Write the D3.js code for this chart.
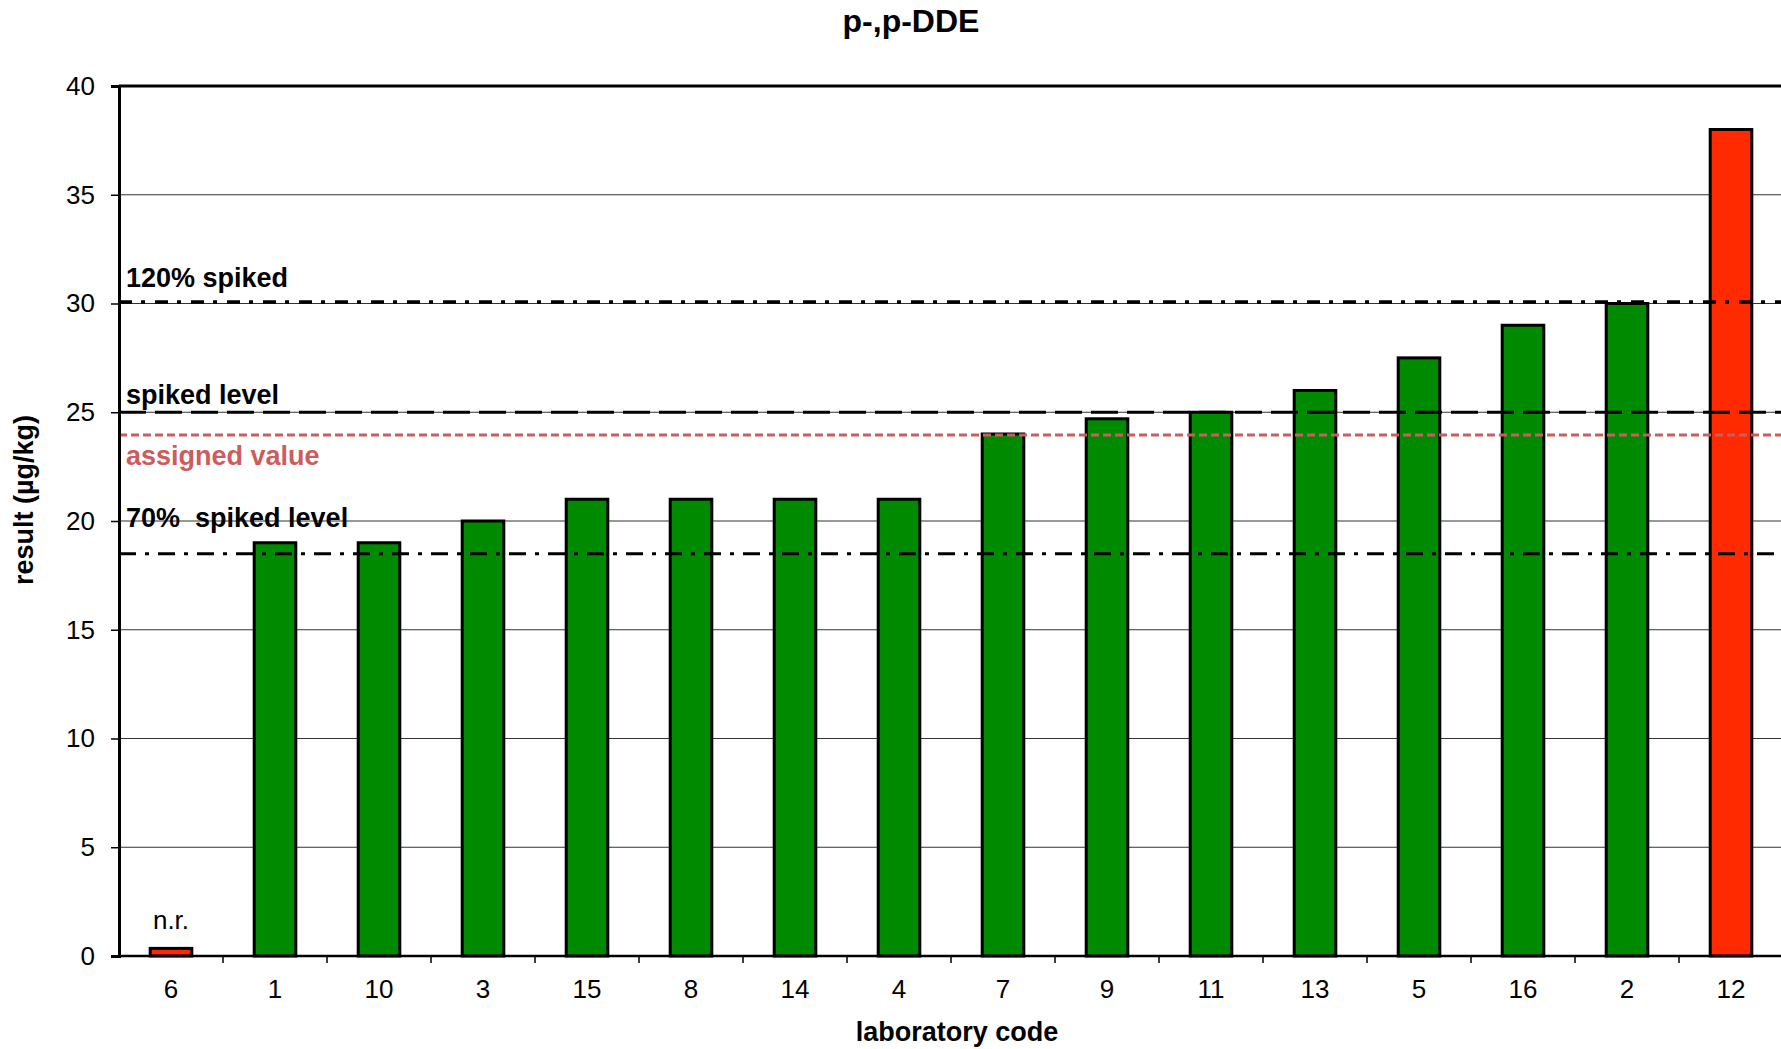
<!DOCTYPE html>
<html>
<head>
<meta charset="utf-8">
<script src="https://cdn.jsdelivr.net/npm/d3@7"></script>
<style>
  body { margin: 0; background: #fff; }
  svg { display: block; font-family: "Liberation Sans", Arial, sans-serif; }
</style>
</head>
<body>
<svg id="chart" width="1781" height="1049"></svg>
<script>
// lab codes in the order shown, and the reported results (µg/kg)
const labs = ["6", "1", "10", "3", "15", "8", "14", "4", "7", "9", "11", "13", "5", "16", "2", "12"];
const results = [0.35, 19, 19, 20, 21, 21, 21, 21, 24, 24.7, 25, 26, 27.5, 29, 30, 38];
const outliers = ["6", "12"];
const notReported = ["6"];

// horizontal reference levels
const refNames = ["120% spiked", "spiked level", "assigned value", "70%  spiked level"];
const refValues = [30.07, 25, 23.95, 18.5];

const yTicks = [0, 5, 10, 15, 20, 25, 30, 35, 40];

const svg = d3.select("#chart");
const margin = {top: 86, left: 119, bottom: 93};
const innerWidth = 1664;
const innerHeight = 1049 - margin.top - margin.bottom;

const g = svg.append("g").attr("transform", `translate(${margin.left},${margin.top})`);

const xScale = d3.scaleBand().domain(labs).range([0, innerWidth]).paddingInner(0.6).paddingOuter(0.3);
const yScale = d3.scaleLinear().domain([0, 40]).range([innerHeight, 0]);

// grid lines
g.selectAll("line.grid")
  .data(yTicks.slice(1, -1))
  .enter()
  .append("line")
  .attr("class", "grid")
  .attr("x1", 0)
  .attr("x2", innerWidth)
  .attr("y1", d => yScale(d))
  .attr("y2", d => yScale(d))
  .attr("stroke", "#333")
  .attr("stroke-width", 1.2);

// bars
const data = labs.map((d, i) => ({lab: d, value: results[i]}));
g.selectAll("rect.bar")
  .data(data)
  .enter()
  .append("rect")
  .attr("class", "bar")
  .attr("x", d => xScale(d.lab))
  .attr("y", d => yScale(d.value))
  .attr("width", xScale.bandwidth())
  .attr("height", d => yScale(0) - yScale(d.value))
  .attr("fill", d => outliers.includes(d.lab) ? "#ff2a00" : "#008a00")
  .attr("stroke", "#000")
  .attr("stroke-width", 3);

// n.r. label
g.selectAll("text.nr")
  .data(data.filter(d => notReported.includes(d.lab)))
  .enter()
  .append("text")
  .attr("x", d => xScale(d.lab) + xScale.bandwidth() / 2)
  .attr("y", d => yScale(d.value) - 19)
  .attr("text-anchor", "middle")
  .style("font-size", "26px")
  .text("n.r.");

// reference lines
const refStyles = [
  {dash: "13,9,4,10", color: "#000", width: 3.5},
  {dash: "27,9", color: "#000", width: 3},
  {dash: "8,4", color: "#cd5c5c", width: 3},
  {dash: "17,9,4,9", color: "#000", width: 3}
];
const labelOffset = [-15, -8, 30, -27];

refValues.forEach((v, i) => {
  g.append("line")
    .attr("x1", 0)
    .attr("x2", innerWidth)
    .attr("y1", yScale(v))
    .attr("y2", yScale(v))
    .attr("stroke", refStyles[i].color)
    .attr("stroke-width", refStyles[i].width)
    .attr("stroke-dasharray", refStyles[i].dash);

  g.append("text")
    .attr("x", 7)
    .attr("y", yScale(v) + labelOffset[i])
    .style("font-size", "27px")
    .style("font-weight", "bold")
    .style("white-space", "pre")
    .attr("fill", refStyles[i].color)
    .text(refNames[i]);
});

// top border of plot area
g.append("line")
  .attr("x1", 0).attr("x2", innerWidth)
  .attr("y1", yScale(40)).attr("y2", yScale(40))
  .attr("stroke", "#000").attr("stroke-width", 3);

// y axis
const yAxis = g.append("g")
  .call(d3.axisLeft(yScale).tickValues(yTicks).tickSize(8).tickPadding(16));
yAxis.select(".domain").attr("stroke-width", 3);
yAxis.selectAll("line").attr("stroke-width", 1.5);
yAxis.selectAll("text").style("font-size", "26px").attr("fill", "#000");

// x axis: line at zero, ticks between categories, labels centred
g.append("line")
  .attr("x1", 0).attr("x2", innerWidth)
  .attr("y1", innerHeight).attr("y2", innerHeight)
  .attr("stroke", "#000").attr("stroke-width", 2.5);

g.selectAll("line.xtick")
  .data(labs.slice(1))
  .enter()
  .append("line")
  .attr("class", "xtick")
  .attr("x1", d => xScale(d) - xScale.step() * xScale.paddingInner() / 2)
  .attr("x2", d => xScale(d) - xScale.step() * xScale.paddingInner() / 2)
  .attr("y1", innerHeight)
  .attr("y2", innerHeight + 7)
  .attr("stroke", "#000")
  .attr("stroke-width", 1.5);

const xAxis = g.append("g")
  .attr("transform", `translate(0, ${innerHeight})`)
  .call(d3.axisBottom(xScale).tickSize(0).tickPadding(24));
xAxis.select(".domain").remove();
xAxis.selectAll("text").style("font-size", "26px").attr("fill", "#000");

// titles
svg.append("text")
  .attr("x", 911)
  .attr("y", 32)
  .attr("text-anchor", "middle")
  .style("font-size", "32px")
  .style("font-weight", "bold")
  .text("p-,p-DDE");

svg.append("text")
  .attr("x", 957)
  .attr("y", 1041)
  .attr("text-anchor", "middle")
  .style("font-size", "27px")
  .style("font-weight", "bold")
  .text("laboratory code");

svg.append("text")
  .attr("transform", "rotate(-90)")
  .attr("x", -500)
  .attr("y", 33)
  .attr("text-anchor", "middle")
  .style("font-size", "27px")
  .style("font-weight", "bold")
  .text("result (µg/kg)");
</script>
</body>
</html>
